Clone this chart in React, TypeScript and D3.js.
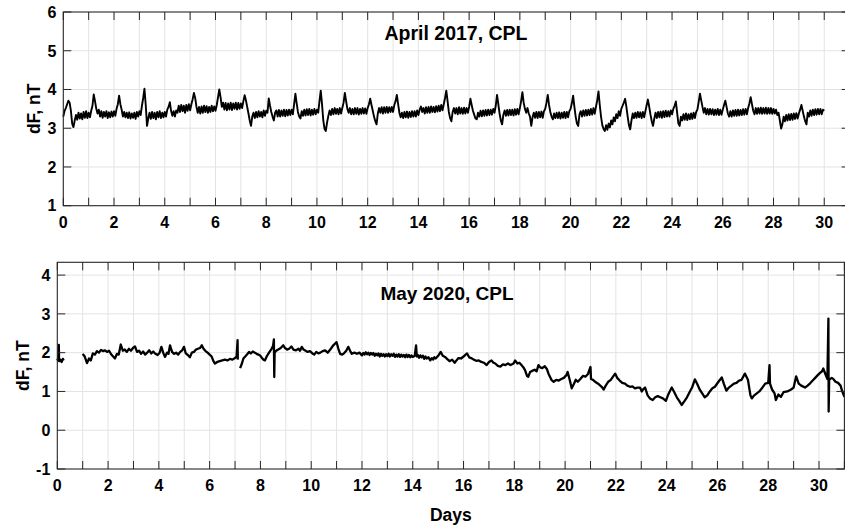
import React from 'react';
import * as d3 from 'd3';

// ---------- data ----------
const dayTicks: number[] = d3.range(0, 32);
const xTickLabels: number[] = [0, 2, 4, 6, 8, 10, 12, 14, 16, 18, 20, 22, 24, 26, 28, 30];
const topYTicks: number[] = [1, 2, 3, 4, 5, 6];
const bottomYTicks: number[] = [-1, 0, 1, 2, 3, 4];

const topTitle = 'April 2017, CPL';
const bottomTitle = 'May 2020, CPL';
const yLabel = 'dF, nT';
const xLabel = 'Days';

// April 2017, sampled every 0.05 day from day 0 (one row per day)
const april2017Start = 0;
const april2017Step = 0.05;
const april2017: number[] = [
  3.30, 3.45, 3.52, 3.62, 3.71, 3.66, 3.45, 3.12, 3.03, 3.20, 3.34, 3.22, 3.40, 3.25, 3.38, 3.23, 3.42, 3.27, 3.44, 3.26,
  3.40, 3.28, 3.45, 3.58, 3.87, 3.70, 3.50, 3.38, 3.48, 3.30, 3.44, 3.27, 3.42, 3.30, 3.44, 3.26, 3.41, 3.28, 3.43, 3.30,
  3.44, 3.32, 3.50, 3.62, 3.84, 3.62, 3.48, 3.30, 3.42, 3.28, 3.40, 3.26, 3.41, 3.25, 3.38, 3.27, 3.40, 3.24, 3.42, 3.30,
  3.44, 3.34, 3.58, 3.78, 4.02, 3.60, 3.06, 3.25, 3.40, 3.24, 3.42, 3.26, 3.40, 3.23, 3.42, 3.28, 3.44, 3.26, 3.40, 3.28,
  3.42, 3.30, 3.48, 3.55, 3.67, 3.45, 3.32, 3.44, 3.30, 3.46, 3.40, 3.58, 3.42, 3.60, 3.44, 3.58, 3.40, 3.60, 3.45, 3.62,
  3.46, 3.62, 3.75, 3.91, 3.78, 3.55, 3.40, 3.55, 3.38, 3.56, 3.40, 3.58, 3.42, 3.57, 3.40, 3.55, 3.42, 3.58, 3.44, 3.56,
  3.45, 3.60, 3.80, 4.00, 3.80, 3.55, 3.66, 3.48, 3.65, 3.46, 3.64, 3.48, 3.66, 3.47, 3.64, 3.50, 3.66, 3.48, 3.65, 3.50,
  3.64, 3.52, 3.70, 3.85, 3.72, 3.55, 3.38, 3.20, 3.06, 3.30, 3.40, 3.26, 3.42, 3.28, 3.44, 3.30, 3.42, 3.28, 3.46, 3.32,
  3.45, 3.40, 3.77, 3.58, 3.42, 3.30, 3.20, 3.40, 3.46, 3.30, 3.47, 3.30, 3.46, 3.32, 3.48, 3.31, 3.47, 3.33, 3.48, 3.34,
  3.48, 3.36, 3.62, 3.89, 3.65, 3.42, 3.30, 3.25, 3.44, 3.32, 3.48, 3.33, 3.49, 3.34, 3.50, 3.33, 3.48, 3.35, 3.50, 3.36,
  3.48, 3.40, 3.70, 3.97, 3.62, 3.20, 2.98, 2.93, 3.15, 3.32, 3.46, 3.34, 3.50, 3.36, 3.52, 3.37, 3.50, 3.36, 3.52, 3.38,
  3.52, 3.66, 3.91, 3.70, 3.50, 3.40, 3.52, 3.36, 3.50, 3.36, 3.52, 3.37, 3.52, 3.35, 3.50, 3.37, 3.52, 3.38, 3.51, 3.37,
  3.52, 3.62, 3.76, 3.60, 3.45, 3.30, 3.18, 3.10, 3.38, 3.52, 3.40, 3.54, 3.38, 3.54, 3.40, 3.55, 3.40, 3.54, 3.42, 3.55,
  3.42, 3.60, 3.70, 3.86, 3.62, 3.40, 3.28, 3.40, 3.26, 3.42, 3.28, 3.43, 3.27, 3.42, 3.29, 3.44, 3.30, 3.44, 3.30, 3.46,
  3.34, 3.48, 3.56, 3.42, 3.52, 3.38, 3.54, 3.40, 3.55, 3.40, 3.56, 3.42, 3.55, 3.41, 3.57, 3.43, 3.58, 3.44, 3.60, 3.46,
  3.62, 3.78, 3.97, 3.70, 3.42, 3.26, 3.18, 3.42, 3.52, 3.38, 3.52, 3.36, 3.54, 3.38, 3.52, 3.37, 3.53, 3.38, 3.52, 3.40,
  3.55, 3.76, 3.60, 3.45, 3.35, 3.25, 3.23, 3.40, 3.30, 3.45, 3.31, 3.46, 3.32, 3.47, 3.33, 3.48, 3.34, 3.48, 3.35, 3.50,
  3.40, 3.58, 3.86, 3.62, 3.38, 3.20, 3.10, 3.35, 3.46, 3.32, 3.47, 3.33, 3.48, 3.34, 3.48, 3.33, 3.49, 3.35, 3.50, 3.36,
  3.52, 3.70, 3.93, 3.66, 3.50, 3.40, 3.52, 3.38, 3.30, 3.06, 3.28, 3.40, 3.27, 3.42, 3.26, 3.42, 3.28, 3.43, 3.27, 3.44,
  3.50, 3.66, 3.86, 3.60, 3.42, 3.30, 3.23, 3.38, 3.26, 3.40, 3.26, 3.41, 3.25, 3.40, 3.27, 3.42, 3.26, 3.42, 3.28, 3.44,
  3.50, 3.65, 3.84, 3.55, 3.30, 3.12, 3.06, 3.35, 3.44, 3.30, 3.46, 3.32, 3.47, 3.33, 3.48, 3.34, 3.50, 3.35, 3.52, 3.37,
  3.55, 3.72, 3.95, 3.60, 3.30, 3.08, 2.98, 2.93, 3.08, 2.96, 3.12, 3.02, 3.20, 3.10, 3.28, 3.18, 3.36, 3.26, 3.44, 3.32,
  3.50, 3.58, 3.66, 3.76, 3.55, 3.30, 3.08, 2.97, 3.20, 3.38, 3.26, 3.40, 3.27, 3.42, 3.28, 3.41, 3.26, 3.42, 3.28, 3.44,
  3.60, 3.74, 3.55, 3.35, 3.18, 3.06, 3.25, 3.40, 3.26, 3.42, 3.28, 3.43, 3.27, 3.44, 3.29, 3.45, 3.30, 3.44, 3.30, 3.46,
  3.36, 3.50, 3.58, 3.69, 3.40, 3.12, 3.06, 3.30, 3.20, 3.36, 3.22, 3.38, 3.21, 3.36, 3.23, 3.38, 3.24, 3.40, 3.26, 3.42,
  3.48, 3.68, 3.89, 3.72, 3.55, 3.40, 3.52, 3.36, 3.50, 3.35, 3.50, 3.36, 3.49, 3.34, 3.48, 3.35, 3.50, 3.34, 3.48, 3.35,
  3.48, 3.60, 3.71, 3.55, 3.38, 3.30, 3.44, 3.30, 3.46, 3.32, 3.47, 3.32, 3.48, 3.33, 3.47, 3.34, 3.49, 3.35, 3.50, 3.36,
  3.52, 3.64, 3.80, 3.62, 3.45, 3.36, 3.52, 3.37, 3.52, 3.38, 3.53, 3.37, 3.52, 3.38, 3.53, 3.37, 3.52, 3.38, 3.52, 3.37,
  3.50, 3.38, 3.48, 3.34, 3.40, 3.20, 2.99, 3.10, 3.30, 3.18, 3.34, 3.20, 3.36, 3.21, 3.37, 3.22, 3.38, 3.24, 3.39, 3.25,
  3.38, 3.48, 3.60, 3.45, 3.30, 3.18, 3.10, 3.40, 3.30, 3.46, 3.32, 3.48, 3.34, 3.49, 3.35, 3.50, 3.36, 3.50, 3.36, 3.48,
  3.45,
];

// May 2020: [day, dF] pairs, null marks a data gap
const may2020: [number, number | null][] = [
  [0, 1.85], [0.03, 1.8], [0.06, 2.2], [0.07, 1.78], [0.12, 1.82], [0.17, 1.76], [0.22, 1.84], [0.25, 1.8],
  [0.5, null],
  [1.0, 1.97], [1.08, 1.9], [1.17, 1.73], [1.25, 1.85], [1.32, 1.8], [1.4, 1.98], [1.48, 1.95], [1.56, 2.04],
  [1.64, 2.0], [1.72, 2.07], [1.8, 2.04], [1.88, 2.06], [1.96, 2.02], [2.04, 2.05], [2.12, 1.96], [2.2, 1.9],
  [2.27, 1.85], [2.35, 1.97], [2.42, 1.95], [2.5, 2.21], [2.58, 2.05], [2.66, 2.08], [2.74, 2.02], [2.82, 2.1],
  [2.9, 2.05], [2.98, 2.12], [3.06, 2.16], [3.14, 2.02], [3.22, 2.05], [3.3, 1.97], [3.38, 2.03], [3.46, 1.95],
  [3.54, 2.0], [3.62, 2.06], [3.7, 1.98], [3.78, 2.03], [3.85, 1.98], [3.95, 1.94], [4.03, 2.0], [4.1, 2.15],
  [4.17, 2.0], [4.24, 1.89], [4.32, 2.0], [4.38, 1.97], [4.44, 2.19], [4.52, 2.02], [4.6, 1.97], [4.68, 2.0],
  [4.76, 1.95], [4.84, 2.02], [4.92, 2.06], [4.99, 2.15], [5.06, 1.98], [5.14, 1.94], [5.22, 1.88], [5.3, 2.0],
  [5.38, 2.02], [5.46, 2.08], [5.54, 2.1], [5.62, 2.12], [5.69, 2.19], [5.76, 2.1], [5.84, 2.04], [5.92, 2.0],
  [6.0, 1.95], [6.08, 1.9], [6.15, 1.78], [6.21, 1.72], [6.3, 1.76], [6.4, 1.78], [6.5, 1.8], [6.6, 1.82],
  [6.7, 1.8], [6.8, 1.84], [6.9, 1.82], [7.0, 1.86], [7.06, 1.9], [7.1, 2.32], [7.11, 1.82],
  [7.15, null],
  [7.2, 1.6], [7.26, 1.7], [7.33, 1.85], [7.4, 1.9], [7.48, 1.96], [7.55, 2.02], [7.62, 1.98], [7.7, 2.03],
  [7.78, 2.0], [7.85, 1.97], [7.92, 1.95], [8.0, 1.92], [8.05, 1.87], [8.12, 1.82], [8.18, 1.8], [8.26, 1.92],
  [8.34, 2.0], [8.44, 2.1], [8.5, 2.18], [8.53, 2.34], [8.545, 1.37], [8.56, 2.0], [8.62, 2.05], [8.7, 2.08],
  [8.8, 2.12], [8.9, 2.19], [8.97, 2.12], [9.05, 2.08], [9.13, 2.1], [9.22, 2.16], [9.3, 2.08], [9.4, 2.06],
  [9.5, 2.1], [9.56, 2.05], [9.63, 2.15], [9.7, 2.08], [9.78, 2.05], [9.86, 2.02], [9.95, 2.04], [10.05, 1.98],
  [10.12, 1.95], [10.2, 2.02], [10.28, 1.98], [10.36, 2.0], [10.45, 2.04], [10.55, 2.06], [10.65, 2.0], [10.75, 2.08],
  [10.87, 2.19], [11.0, 2.27], [11.07, 2.1], [11.14, 1.97], [11.22, 1.95], [11.3, 1.99], [11.38, 2.05], [11.46, 2.15],
  [11.53, 2.05], [11.6, 1.97], [11.7, 2.0], [11.8, 1.97], [11.9, 2.0], [12.0, 1.93], [12.05, 1.99], [12.1, 1.95],
  [12.15, 2.01], [12.2, 1.96], [12.25, 2.0], [12.3, 1.94], [12.35, 1.99], [12.4, 1.95], [12.45, 1.99], [12.5, 1.92],
  [12.55, 1.97], [12.6, 1.93], [12.65, 1.98], [12.7, 1.9], [12.75, 1.97], [12.8, 1.92], [12.85, 1.96], [12.9, 1.9],
  [12.95, 1.96], [13.0, 1.91], [13.05, 1.97], [13.1, 1.9], [13.15, 1.96], [13.2, 1.92], [13.25, 1.97], [13.3, 1.89],
  [13.35, 1.95], [13.4, 1.9], [13.45, 1.96], [13.5, 1.89], [13.55, 1.95], [13.6, 1.9], [13.65, 1.94], [13.7, 1.88],
  [13.75, 1.95], [13.8, 1.89], [13.85, 1.94], [13.9, 1.88], [13.95, 1.93], [14.0, 1.89], [14.08, 1.92], [14.13, 2.19],
  [14.16, 1.9], [14.2, 1.94], [14.25, 1.87], [14.3, 1.93], [14.35, 1.88], [14.4, 1.92], [14.45, 1.84], [14.5, 1.9],
  [14.55, 1.85], [14.62, 1.88], [14.69, 1.8], [14.75, 1.86], [14.8, 1.82], [14.85, 1.88], [14.9, 1.85], [15.0, 1.92],
  [15.1, 2.02], [15.18, 1.92], [15.27, 1.89], [15.35, 1.84], [15.45, 1.78], [15.55, 1.82], [15.65, 1.74], [15.72, 1.8],
  [15.8, 1.86], [15.9, 1.85], [16.0, 1.9], [16.07, 1.94], [16.14, 1.98], [16.22, 1.88], [16.3, 1.86], [16.4, 1.82],
  [16.5, 1.79], [16.6, 1.8], [16.7, 1.76], [16.8, 1.74], [16.91, 1.68], [17.0, 1.76], [17.1, 1.8], [17.18, 1.74],
  [17.25, 1.72], [17.35, 1.66], [17.45, 1.64], [17.55, 1.7], [17.65, 1.68], [17.75, 1.72], [17.85, 1.68], [17.97, 1.72],
  [18.03, 1.8], [18.12, 1.72], [18.2, 1.74], [18.28, 1.68], [18.36, 1.62], [18.42, 1.55], [18.5, 1.4], [18.55, 1.38],
  [18.62, 1.5], [18.7, 1.53], [18.8, 1.56], [18.88, 1.52], [18.95, 1.68], [19.02, 1.62], [19.1, 1.6], [19.2, 1.65],
  [19.28, 1.58], [19.35, 1.45], [19.47, 1.29], [19.55, 1.25], [19.65, 1.3], [19.75, 1.28], [19.85, 1.32], [19.95, 1.35],
  [20.05, 1.42], [20.1, 1.5], [20.18, 1.3], [20.26, 1.08], [20.35, 1.2], [20.42, 1.3], [20.5, 1.25], [20.6, 1.32],
  [20.7, 1.4], [20.8, 1.38], [20.9, 1.45], [21.0, 1.63], [21.02, 1.32], [21.1, 1.3], [21.18, 1.25], [21.3, 1.2],
  [21.44, 1.12], [21.52, 1.05], [21.6, 1.15], [21.7, 1.25], [21.8, 1.3], [21.97, 1.46], [22.05, 1.35], [22.15, 1.28],
  [22.25, 1.22], [22.36, 1.2], [22.45, 1.15], [22.56, 1.12], [22.65, 1.13], [22.75, 1.08], [22.85, 1.1], [22.95, 1.1],
  [23.02, 1.0], [23.08, 1.06], [23.15, 1.1], [23.25, 0.9], [23.34, 0.82], [23.45, 0.78], [23.55, 0.85], [23.65, 0.88],
  [23.75, 0.85], [23.85, 0.82], [23.97, 0.76], [24.05, 0.9], [24.12, 1.0], [24.2, 1.1], [24.3, 0.98], [24.4, 0.85],
  [24.5, 0.75], [24.59, 0.65], [24.7, 0.75], [24.8, 0.85], [24.9, 0.98], [25.0, 1.1], [25.11, 1.31], [25.2, 1.2],
  [25.3, 1.05], [25.4, 0.95], [25.5, 0.85], [25.6, 0.9], [25.7, 1.0], [25.8, 1.08], [25.9, 1.12], [26.04, 1.25],
  [26.17, 1.36], [26.25, 1.2], [26.35, 1.02], [26.45, 1.1], [26.55, 1.15], [26.65, 1.2], [26.75, 1.22], [26.85, 1.28],
  [26.95, 1.3], [27.08, 1.46], [27.2, 1.3], [27.3, 0.9], [27.35, 0.82], [27.45, 0.9], [27.55, 0.95], [27.65, 1.0],
  [27.75, 1.08], [27.88, 1.2], [28.0, 1.22], [28.05, 1.68], [28.07, 1.2], [28.15, 1.05], [28.25, 0.95], [28.3, 0.78],
  [28.4, 0.92], [28.5, 0.86], [28.6, 0.98], [28.75, 1.0], [28.9, 1.05], [29.0, 1.1], [29.1, 1.39], [29.2, 1.2],
  [29.3, 1.15], [29.45, 1.1], [29.55, 1.15], [29.65, 1.21], [29.75, 1.28], [29.85, 1.35], [29.95, 1.42], [30.04, 1.48],
  [30.12, 1.52], [30.17, 1.59], [30.25, 1.45], [30.33, 1.32], [30.37, 2.88], [30.38, 0.48], [30.4, 1.3], [30.5, 1.35],
  [30.55, 1.33], [30.65, 1.25], [30.75, 1.22], [30.85, 1.15], [30.9, 1.03], [31.0, 0.86],
];

const xDomain: [number, number] = [0, 31];
const topYDomain: [number, number] = [1, 6];
const bottomYDomain: [number, number] = [-1, 4.33];

// ---------- drawing ----------
const FONT = '"Liberation Sans", Arial, Helvetica, sans-serif';
const AX = '#262626';
const GRID = '#e3e3e3';

type PanelProps = {
  x0: number; x1: number; y0: number; y1: number;
  yDomain: [number, number];
  yTicks: number[];
  points: [number, number | null][];
  strokeWidth: number;
  title: string; titleX: number; titleY: number; titleSize: number;
  yLabelX: number;
  xLabelY?: number;
};

function Panel(p: PanelProps) {
  const x = d3.scaleLinear().domain(xDomain).range([p.x0, p.x1]);
  const y = d3.scaleLinear().domain(p.yDomain).range([p.y1, p.y0]);
  const line = d3
    .line<[number, number | null]>()
    .defined((d) => d[1] !== null)
    .x((d) => x(d[0]))
    .y((d) => y(d[1] as number));
  const tickLen = 8;
  return (
    <g>
      {dayTicks.filter((d) => d > xDomain[0] && d < xDomain[1]).map((d) => (
        <line key={'gx' + d} x1={x(d)} x2={x(d)} y1={p.y0} y2={p.y1} stroke={GRID} strokeWidth={1} />
      ))}
      {p.yTicks.filter((v) => y(v) > p.y0 + 0.5 && y(v) < p.y1 - 0.5).map((v) => (
        <line key={'gy' + v} x1={p.x0} x2={p.x1} y1={y(v)} y2={y(v)} stroke={GRID} strokeWidth={1} />
      ))}
      <path d={line(p.points) || ''} fill="none" stroke="#000" strokeWidth={p.strokeWidth} strokeLinejoin="round" />
      <rect x={p.x0} y={p.y0} width={p.x1 - p.x0} height={p.y1 - p.y0} fill="none" stroke={AX} strokeWidth={1.1} />
      {dayTicks.map((d) => (
        <g key={'tx' + d}>
          <line x1={x(d)} x2={x(d)} y1={p.y1} y2={p.y1 - tickLen} stroke={AX} strokeWidth={1} />
          <line x1={x(d)} x2={x(d)} y1={p.y0} y2={p.y0 + tickLen} stroke={AX} strokeWidth={1} />
        </g>
      ))}
      {p.yTicks.map((v) => (
        <g key={'ty' + v}>
          <line x1={p.x0} x2={p.x0 + tickLen} y1={y(v)} y2={y(v)} stroke={AX} strokeWidth={1} />
          <line x1={p.x1} x2={p.x1 - tickLen} y1={y(v)} y2={y(v)} stroke={AX} strokeWidth={1} />
        </g>
      ))}
      {xTickLabels.map((d) => (
        <text key={'lx' + d} x={x(d)} y={p.y1 + 22} textAnchor="middle" fontFamily={FONT} fontWeight="bold" fontSize={16} fill="#000">
          {d}
        </text>
      ))}
      {p.yTicks.map((v) => (
        <text key={'ly' + v} x={p.x0 - 7} y={y(v)} dy="0.36em" textAnchor="end" fontFamily={FONT} fontWeight="bold" fontSize={16} fill="#000">
          {v}
        </text>
      ))}
      <text x={p.titleX} y={p.titleY} dy="0.36em" textAnchor="middle" fontFamily={FONT} fontWeight="bold" fontSize={p.titleSize} fill="#000">
        {p.title}
      </text>
      <text
        transform={`translate(${p.yLabelX},${(p.y0 + p.y1) / 2}) rotate(-90)`}
        textAnchor="middle"
        dy="0.36em"
        fontFamily={FONT}
        fontWeight="bold"
        fontSize={17.5}
        fill="#000"
      >
        {yLabel}
      </text>
      {p.xLabelY !== undefined && (
        <text x={(p.x0 + p.x1) / 2} y={p.xLabelY} dy="0.36em" textAnchor="middle" fontFamily={FONT} fontWeight="bold" fontSize={17.5} fill="#000">
          {xLabel}
        </text>
      )}
    </g>
  );
}

export default function App() {
  const topPoints: [number, number | null][] = april2017.map((v, i) => [april2017Start + i * april2017Step, v]);
  return (
    <svg
      width={845}
      height={526}
      viewBox="0 0 845 526"
      style={{ position: 'absolute', left: 0, top: 0, background: '#fff' }}
    >
      <rect x={0} y={0} width={845} height={526} fill="#fff" />
      <Panel
        x0={63.3} x1={849.6} y0={12} y1={205.7}
        yDomain={topYDomain} yTicks={topYTicks}
        points={topPoints} strokeWidth={1.9}
        title={topTitle} titleX={456} titleY={33} titleSize={19.5}
        yLabelX={34}
      />
      <Panel
        x0={57.3} x1={844.4} y0={262.3} y1={469}
        yDomain={bottomYDomain} yTicks={bottomYTicks}
        points={may2020} strokeWidth={2.3}
        title={bottomTitle} titleX={447} titleY={293} titleSize={19}
        yLabelX={23}
        xLabelY={515}
      />
    </svg>
  );
}
